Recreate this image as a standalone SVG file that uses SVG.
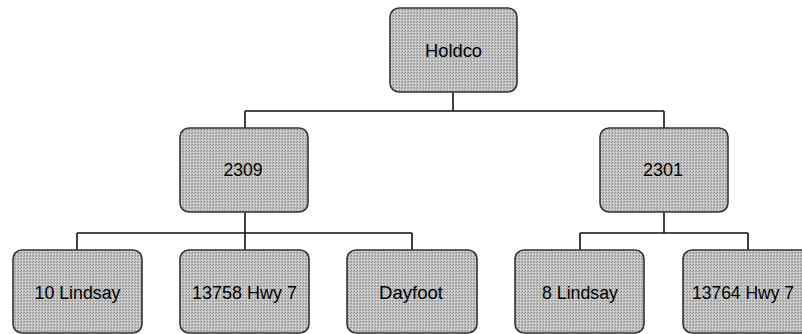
<svg xmlns="http://www.w3.org/2000/svg" width="802" height="334" viewBox="0 0 802 334">
  <defs>
    <pattern id="stip" width="3" height="3" patternUnits="userSpaceOnUse">
      <rect width="3" height="3" fill="#c0c0c0"/>
      <rect x="0" y="0" width="1" height="1" fill="#8a8a8a"/>
      <rect x="2" y="1" width="1" height="1" fill="#9c9c9c"/>
      <rect x="1" y="2" width="1" height="1" fill="#e6e6e6"/>
    </pattern>
  </defs>
  <style>
    .box { fill: url(#stip); stroke: #333; stroke-width: 1.6; }
    .lbl { font-family: "Liberation Sans", Arial, sans-serif; font-size: 19px; fill: #000; text-anchor: middle; }
    .conn { fill: none; stroke: #111; stroke-width: 1.6; }
  </style>
  <rect width="802" height="334" fill="#ffffff"/>
  <g id="connectors">
    <path class="conn" d="M453 92 V111 M245 111 H664 M245 111 V128 M664 111 V128"/>
    <path class="conn" d="M245 212 V233 M77 233 H412 M77 233 V250 M245 233 V250 M412 233 V250"/>
    <path class="conn" d="M664 212 V233 M580 233 H748 M580 233 V250 M748 233 V250"/>
  </g>
  <g id="holdco">
    <rect class="box" x="390" y="8" width="127" height="84" rx="9"/>
    <text class="lbl" x="453.5" y="57" textLength="57" lengthAdjust="spacingAndGlyphs">Holdco</text>
  </g>
  <g id="n2309">
    <rect class="box" x="180" y="128" width="128" height="84" rx="9"/>
    <text class="lbl" x="243" y="176" textLength="39" lengthAdjust="spacingAndGlyphs">2309</text>
  </g>
  <g id="n2301">
    <rect class="box" x="600" y="128" width="128" height="84" rx="9"/>
    <text class="lbl" x="663" y="176" textLength="40" lengthAdjust="spacingAndGlyphs">2301</text>
  </g>
  <g id="n10lindsay">
    <rect class="box" x="13" y="250" width="129" height="83" rx="9"/>
    <text class="lbl" x="77.5" y="299" textLength="86" lengthAdjust="spacingAndGlyphs">10 Lindsay</text>
  </g>
  <g id="n13758">
    <rect class="box" x="180" y="250" width="129" height="83" rx="9"/>
    <text class="lbl" x="244.5" y="299" textLength="105" lengthAdjust="spacingAndGlyphs">13758 Hwy 7</text>
  </g>
  <g id="dayfoot">
    <rect class="box" x="347" y="250" width="130" height="83" rx="9"/>
    <text class="lbl" x="411" y="299" textLength="64" lengthAdjust="spacingAndGlyphs">Dayfoot</text>
  </g>
  <g id="n8lindsay">
    <rect class="box" x="515" y="250" width="129" height="83" rx="9"/>
    <text class="lbl" x="580" y="299" textLength="76" lengthAdjust="spacingAndGlyphs">8 Lindsay</text>
  </g>
  <g id="n13764">
    <rect class="box" x="683" y="250" width="129" height="83" rx="9"/>
    <text class="lbl" x="743" y="299" textLength="102" lengthAdjust="spacingAndGlyphs">13764 Hwy 7</text>
  </g>
</svg>
